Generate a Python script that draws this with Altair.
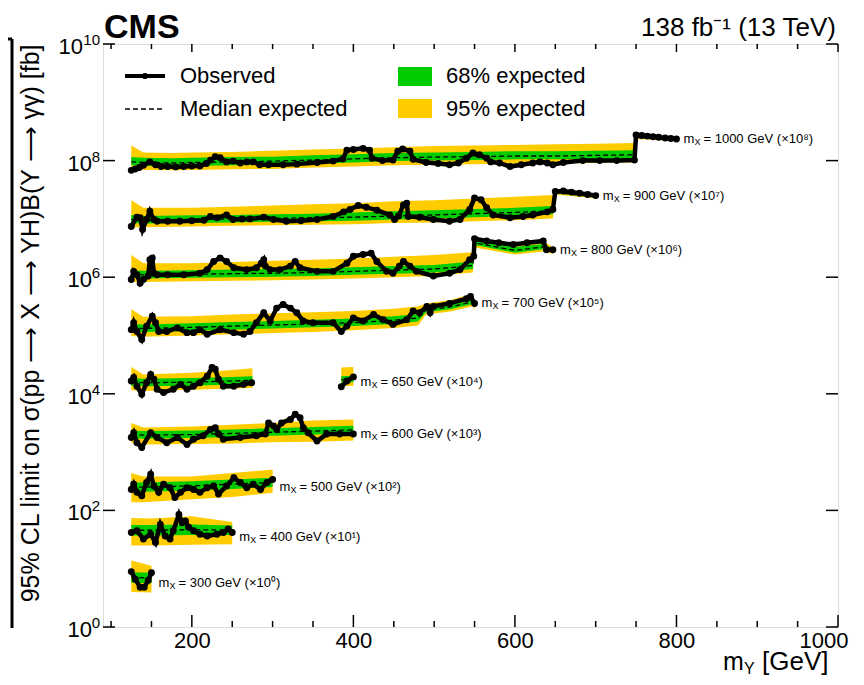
import altair as alt
import pandas as pd

# ---------------- data (limits in fb, before the per-series scale factor) ----------------
series_mX = [1000, 900, 800, 700, 650, 600, 500, 400, 300]
scale_pow = [8, 7, 6, 5, 4, 3, 2, 1, 0]

# mX = 1000 GeV
mY_obs_1000 = [125,130,135,140,148,155,162,170,180,190,200,210,218,223,229,235,243,251,260,268,276,284,295,313,330,355,375,387,392,400,412,420,423,436,449,455,461,470,474,490,505,519,530,540,548,556,565,570,581,594,608,622,631,640,647,660,684,705,726,748,750,757,764,771,778,786,793,800]
obs_1000 = [0.68,0.72,0.76,0.83,0.95,0.85,0.79,0.79,0.78,0.79,0.81,0.81,0.89,1.02,1.17,1.12,0.95,0.98,0.91,0.95,0.95,0.85,0.85,0.85,0.87,0.93,0.98,1.07,1.51,1.55,1.62,1.51,1.10,1.00,1.02,1.45,1.58,1.45,1.05,0.93,0.89,0.85,0.91,1.10,1.35,1.26,1.10,0.95,0.91,0.79,0.85,0.91,0.95,0.91,0.85,0.93,1.00,1.00,1.00,1.02,2.75,2.69,2.63,2.57,2.51,2.45,2.40,2.34]
mY_exp_1000 = [125,140,175,200,250,300,350,400,450,500,550,600,650,700,748,750,800]
exp_1000 = [0.95,0.93,0.91,0.93,0.95,0.98,1.02,1.07,1.12,1.15,1.17,1.20,1.20,1.23,1.26,2.51,2.29]
g_lo_1000 = [0.83,0.81,0.79,0.81,0.83,0.85,0.89,0.93,0.98,1.00,1.02,1.05,1.05,1.07,1.10,2.45,2.24]
g_hi_1000 = [1.15,1.12,1.10,1.12,1.15,1.17,1.23,1.29,1.35,1.38,1.41,1.45,1.45,1.48,1.51,2.63,2.40]
y_lo_1000 = [0.69,0.69,0.68,0.69,0.71,0.72,0.76,0.79,0.83,0.85,0.87,0.89,0.89,0.91,0.93,2.34,2.14]
y_hi_1000 = [1.82,1.38,1.35,1.38,1.41,1.48,1.55,1.62,1.70,1.78,1.82,1.86,1.91,1.95,2.00,2.75,2.51]

# mX = 900 GeV
mY_obs_900 = [125,132,136,139,144,148,153,157,170,185,200,215,223,231,243,251,262,272,289,301,317,335,355,375,388,396,406,416,429,445,451,456,462,466,468,482,499,519,532,544,550,558,565,573,594,610,622,640,647,650,660,670,680,690,700]
obs_900 = [0.74,1.07,1.05,0.66,0.98,1.35,0.98,0.91,0.91,0.91,0.93,0.95,1.10,1.05,1.17,0.98,1.00,1.00,1.07,0.98,0.91,0.93,0.98,1.10,1.32,1.45,1.70,1.58,1.41,1.17,0.98,1.12,1.74,1.86,1.10,1.07,0.98,0.91,0.98,1.45,2.29,2.14,1.55,1.17,1.05,1.10,1.17,1.32,1.45,2.95,3.02,2.88,2.75,2.63,2.51]
mY_exp_900 = [125,140,200,250,300,350,400,450,500,550,600,647,650,700]
exp_900 = [0.98,0.95,0.98,1.00,1.02,1.05,1.07,1.12,1.17,1.23,1.29,1.38,2.82,2.40]
g_lo_900 = [0.85,0.83,0.85,0.87,0.89,0.91,0.93,0.98,1.02,1.07,1.12,1.20,2.75,2.34]
g_hi_900 = [1.17,1.12,1.15,1.17,1.20,1.23,1.29,1.35,1.41,1.48,1.55,1.66,2.95,2.51]
y_lo_900 = [0.72,0.72,0.74,0.76,0.78,0.79,0.81,0.85,0.87,0.91,0.95,1.02,2.63,2.24]
y_hi_900 = [2.09,1.55,1.55,1.62,1.70,1.78,1.86,2.00,2.09,2.24,2.40,2.57,3.09,2.63]

# mX = 800 GeV
mY_obs_800 = [125,128,132,136,140,146,148,151,153,157,170,190,210,219,227,235,243,252,268,280,286,289,291,297,309,322,328,334,355,375,392,400,412,422,429,441,449,457,462,470,478,499,519,532,544,549,550,565,580,598,615,635,639,647]
obs_800 = [0.91,1.26,1.10,0.79,0.91,1.05,2.00,2.14,1.17,1.10,1.10,1.10,1.17,1.35,1.86,2.14,1.86,1.45,1.35,1.45,1.74,2.00,1.55,1.35,1.35,1.55,1.86,1.45,1.26,1.26,1.74,2.29,2.45,2.57,1.86,1.26,1.17,1.55,1.86,1.55,1.26,1.05,1.17,1.35,2.00,2.29,4.57,4.17,3.89,3.63,3.89,4.17,2.95,2.95]
mY_exp_800 = [125,140,200,250,300,350,400,450,500,548,550,600,635,647]
exp_800 = [1.12,1.10,1.12,1.15,1.17,1.20,1.26,1.32,1.38,1.58,3.89,2.88,3.31,2.82]
g_lo_800 = [0.98,0.95,0.98,1.00,1.02,1.05,1.10,1.15,1.20,1.38,3.55,2.63,3.02,2.63]
g_hi_800 = [1.32,1.29,1.32,1.35,1.38,1.41,1.48,1.55,1.62,1.86,4.27,3.31,3.72,3.02]
y_lo_800 = [0.83,0.83,0.85,0.87,0.89,0.91,0.95,1.00,1.05,1.20,3.24,2.45,2.75,2.51]
y_hi_800 = [2.40,1.74,1.74,1.82,1.91,2.00,2.09,2.24,2.40,2.69,4.68,3.80,4.27,3.24]

# mX = 700 GeV
mY_obs_700 = [125,128,132,138,144,151,155,159,169,182,194,202,210,219,235,252,264,272,280,289,297,305,313,322,330,338,350,375,385,392,400,412,425,437,449,466,474,482,491,495,499,519,540,545,550]
obs_700 = [1.26,1.66,1.17,0.85,1.45,2.14,1.66,1.17,1.17,1.35,1.12,1.12,1.26,1.05,1.26,1.12,1.05,1.17,1.66,2.45,1.78,2.95,3.39,2.95,2.45,1.78,1.66,1.66,1.17,1.45,2.00,1.78,2.29,1.86,1.55,1.86,2.63,2.45,3.16,2.45,3.16,3.55,4.27,4.68,3.55]
mY_exp_700 = [125,140,200,250,300,350,400,450,480,490,520,548,550]
exp_700 = [1.35,1.32,1.38,1.45,1.51,1.58,1.66,1.82,2.00,2.75,3.09,3.80,3.31]
g_lo_700 = [1.17,1.15,1.20,1.26,1.32,1.38,1.45,1.58,1.74,2.51,2.82,3.47,3.02]
g_hi_700 = [1.58,1.55,1.62,1.70,1.78,1.86,1.95,2.14,2.34,3.02,3.39,4.17,3.63]
y_lo_700 = [0.98,0.95,1.00,1.05,1.10,1.15,1.23,1.35,1.48,2.29,2.57,3.16,2.75]
y_hi_700 = [2.82,2.09,2.14,2.29,2.40,2.51,2.63,2.88,3.16,3.55,4.07,5.25,4.17]

# mX = 650 GeV
mY_obs_650 = [125,128,132,138,144,149,153,157,165,177,186,194,202,210,219,225,229,233,239,252,264,274,385,392,400]
obs_650 = [1.66,1.91,1.35,0.98,1.55,2.14,1.78,1.20,1.05,1.20,1.45,1.20,1.35,1.55,2.00,2.82,2.63,1.78,1.35,1.35,1.45,1.55,1.32,1.66,1.95]
mY_exp_650 = [125,140,200,250,275,385,400]
exp_650 = [1.58,1.55,1.58,1.66,1.70,1.74,1.78]
g_lo_650 = [1.38,1.35,1.38,1.45,1.48,1.55,1.58]
g_hi_650 = [1.86,1.82,1.86,1.95,2.00,2.00,2.04]
y_lo_650 = [1.15,1.12,1.17,1.23,1.26,1.35,1.38]
y_hi_650 = [2.88,2.14,2.29,2.57,2.75,2.82,2.88]

# mX = 600 GeV
mY_obs_600 = [125,128,132,138,149,157,169,182,194,202,214,223,229,233,239,260,280,291,295,301,305,311,322,328,334,338,344,355,367,383,400]
obs_600 = [1.78,2.14,1.45,1.20,2.14,1.78,1.45,1.78,1.35,1.66,1.91,2.45,2.63,2.04,1.66,1.78,1.91,2.04,3.16,2.82,2.45,3.16,3.63,4.47,3.89,2.63,2.14,1.55,2.04,2.04,2.04]
mY_exp_600 = [125,140,200,250,300,350,400]
exp_600 = [2.00,1.95,2.00,2.09,2.19,2.29,2.40]
g_lo_600 = [1.74,1.70,1.74,1.82,1.91,2.00,2.09]
g_hi_600 = [2.34,2.29,2.34,2.45,2.57,2.69,2.82]
y_lo_600 = [1.45,1.35,1.38,1.41,1.48,1.51,1.58]
y_hi_600 = [3.16,2.63,2.75,2.95,3.16,3.47,3.63]

# mX = 500 GeV
mY_obs_500 = [125,128,132,138,144,149,153,159,165,173,179,186,194,202,210,219,227,233,243,252,260,268,276,285,293,300]
obs_500 = [2.29,2.82,2.04,1.78,3.02,4.17,2.63,2.04,2.82,2.45,1.66,2.04,2.45,2.29,2.04,2.45,2.63,1.91,2.63,3.63,3.02,2.45,2.82,2.29,3.02,3.39]
mY_exp_500 = [125,140,200,250,300]
exp_500 = [2.51,2.51,2.63,2.82,3.02]
g_lo_500 = [2.14,2.09,2.19,2.34,2.51]
g_hi_500 = [3.02,3.02,3.16,3.39,3.63]
y_lo_500 = [1.38,1.38,1.55,1.70,2.00]
y_hi_500 = [4.37,3.80,3.80,4.37,5.01]

# mX = 400 GeV
mY_obs_400 = [125,132,140,149,155,161,167,173,177,184,188,192,196,202,210,219,231,239,245,250]
obs_400 = [4.17,4.47,3.24,3.89,2.82,5.75,3.63,3.24,4.47,8.51,6.17,6.61,5.13,4.47,3.89,3.63,3.89,4.17,4.79,4.17]
mY_exp_400 = [125,150,200,250]
exp_400 = [4.57,4.57,4.68,4.57]
g_lo_400 = [3.72,3.72,3.80,3.80]
g_hi_400 = [5.62,5.62,5.75,5.50]
y_lo_400 = [2.51,2.51,2.57,2.63]
y_hi_400 = [7.41,7.24,7.94,6.31]

# mX = 300 GeV
mY_obs_300 = [125,130,136,141,146,150]
obs_300 = [8.91,6.61,4.79,4.79,6.31,8.51]
mY_exp_300 = [125,150]
exp_300 = [7.08,6.92]
g_lo_300 = [5.75,5.62]
g_hi_300 = [8.71,8.51]
y_lo_300 = [3.98,3.89]
y_hi_300 = [13.8,11.2]

x_major = [200, 400, 600, 800, 1000]
x_minor = [100, 150, 250, 300, 350, 450, 500, 550, 650, 700, 750, 850, 900, 950]
y_major = [1, 1e2, 1e4, 1e6, 1e8, 1e10]
y_major_exp = ["0", "2", "4", "6", "8", "10"]

obs_sets = {
    1000: (mY_obs_1000, obs_1000), 900: (mY_obs_900, obs_900), 800: (mY_obs_800, obs_800),
    700: (mY_obs_700, obs_700), 650: (mY_obs_650, obs_650), 600: (mY_obs_600, obs_600),
    500: (mY_obs_500, obs_500), 400: (mY_obs_400, obs_400), 300: (mY_obs_300, obs_300),
}
exp_sets = {
    1000: (mY_exp_1000, exp_1000, g_lo_1000, g_hi_1000, y_lo_1000, y_hi_1000),
    900: (mY_exp_900, exp_900, g_lo_900, g_hi_900, y_lo_900, y_hi_900),
    800: (mY_exp_800, exp_800, g_lo_800, g_hi_800, y_lo_800, y_hi_800),
    700: (mY_exp_700, exp_700, g_lo_700, g_hi_700, y_lo_700, y_hi_700),
    650: (mY_exp_650, exp_650, g_lo_650, g_hi_650, y_lo_650, y_hi_650),
    600: (mY_exp_600, exp_600, g_lo_600, g_hi_600, y_lo_600, y_hi_600),
    500: (mY_exp_500, exp_500, g_lo_500, g_hi_500, y_lo_500, y_hi_500),
    400: (mY_exp_400, exp_400, g_lo_400, g_hi_400, y_lo_400, y_hi_400),
    300: (mY_exp_300, exp_300, g_lo_300, g_hi_300, y_lo_300, y_hi_300),
}

# ---------------- styling ----------------
FONT = "Liberation Sans"
YELLOW = "#FFCC00"
GREEN = "#00CC00"
W, H = 735, 583
label_dy = {1000: 0, 900: 0, 800: 0, 700: 0, 650: 5, 600: 0, 500: 8, 400: 4, 300: 10}
SUP = {0: "⁰", 1: "¹", 2: "²", 3: "³", 4: "⁴", 5: "⁵", 6: "⁶", 7: "⁷", 8: "⁸"}


def segments(xlist):
    # a new segment starts where the mass scan has a gap of more than 100 GeV
    seg, prev, out = 0, None, []
    for x in xlist:
        if prev is not None and x - prev > 100:
            seg += 1
        out.append(seg)
        prev = x
    return out


obs_frames, exp_frames, label_frames = [], [], []
for mX, p in zip(series_mX, scale_pow):
    xv, ov = obs_sets[mX]
    f = pd.DataFrame({"mY": xv, "limit": ov})
    f["limit"] = f["limit"] * 10.0 ** p
    f["seg"] = [f"{mX}_{s}" for s in segments(xv)]
    obs_frames.append(f)
    ex, me, gl, gh, yl, yh = exp_sets[mX]
    e = pd.DataFrame({"mY": ex, "med": me, "g_lo": gl, "g_hi": gh, "y_lo": yl, "y_hi": yh})
    for c in ["med", "g_lo", "g_hi", "y_lo", "y_hi"]:
        e[c] = e[c] * 10.0 ** p
    e["seg"] = [f"{mX}_{s}" for s in segments(ex)]
    exp_frames.append(e)
    label_frames.append((mX, pd.DataFrame({
        "mY": [xv[-1]], "limit": [ov[-1] * 10.0 ** p],
        "eq": [f"= {mX} GeV (×10{SUP[p]})"],
    })))

obs_df = pd.concat(obs_frames, ignore_index=True)
exp_df = pd.concat(exp_frames, ignore_index=True)

xs = alt.Scale(domain=[90, 1000], nice=False, zero=False)
ys = alt.Scale(type="log", domain=[1, 1e10], nice=False)

x_axis = alt.Axis(values=x_major, format="d", ticks=False, domain=False, grid=False, title=None,
                  labelFontSize=22, labelPadding=3, labelFlush=True, labelFlushOffset=10,
                  labelFont=FONT, labelColor="black")
y_axis = alt.Axis(values=y_major, labels=False, ticks=False, domain=False, grid=False,
                  title="95% CL limit on σ(pp ⟶ X ⟶ YH)B(Y ⟶ γγ) [fb]",
                  titleFont=FONT, titleFontSize=25, titleFontWeight="normal", titleColor="black",
                  titleAngle=-90, titleX=-73, titleY=0, titleAlign="right", titleBaseline="middle")


def X(f="mY:Q"):
    return alt.X(f, scale=xs, axis=x_axis)


def Y(f):
    return alt.Y(f, scale=ys, axis=y_axis)


yellow = alt.Chart(exp_df).mark_area(color=YELLOW, opacity=1).encode(
    x=X(), y=Y("y_lo:Q"), y2="y_hi:Q", detail="seg:N")
green = alt.Chart(exp_df).mark_area(color=GREEN, opacity=1).encode(
    x=X(), y=Y("g_lo:Q"), y2="g_hi:Q", detail="seg:N")
median = alt.Chart(exp_df).mark_line(color="black", strokeWidth=1.3, strokeDash=[5, 3]).encode(
    x=X(), y=Y("med:Q"), detail="seg:N")
obs_line = alt.Chart(obs_df).mark_line(color="black", strokeWidth=4.5).encode(
    x=X(), y=Y("limit:Q"), detail="seg:N")
obs_pts = alt.Chart(obs_df).mark_circle(color="black", size=48, opacity=1).encode(
    x=X(), y=Y("limit:Q"))

layers = [yellow, green, median, obs_line, obs_pts]

# series labels
for mX, ldf in label_frames:
    dy = label_dy[mX]
    enc = dict(x=X(), y=Y("limit:Q"))
    layers.append(alt.Chart(ldf).mark_text(text="m", font=FONT, fontSize=13, align="left",
                                           baseline="middle", dx=7, dy=dy, color="black").encode(**enc))
    layers.append(alt.Chart(ldf).mark_text(text="X", font=FONT, fontSize=9, align="left",
                                           baseline="middle", dx=18, dy=dy + 3, color="black").encode(**enc))
    layers.append(alt.Chart(ldf).mark_text(font=FONT, fontSize=13, align="left",
                                           baseline="middle", dx=27, dy=dy, color="black").encode(
        text="eq:N", **enc))

# y tick labels as 10 with a raised exponent
ylab = pd.DataFrame({"v": y_major, "e": y_major_exp})
for short in (True, False):
    sub = ylab[ylab["e"].str.len() == (1 if short else 2)]
    layers.append(alt.Chart(sub).mark_text(text="10", font=FONT, fontSize=22, align="right",
                                           baseline="alphabetic", dy=10, color="black").encode(
        x=alt.value(-11 if short else -20), y=Y("v:Q")))
    layers.append(alt.Chart(sub).mark_text(font=FONT, fontSize=15, align="right",
                                           baseline="alphabetic", dy=1, color="black").encode(
        x=alt.value(-3), y=Y("v:Q"), text="e:N"))

# inward ticks
xmaj = pd.DataFrame({"mY": x_major})
xmin = pd.DataFrame({"mY": x_minor})
ymaj = pd.DataFrame({"v": y_major})
tk = dict(color="black", strokeWidth=1.5)
layers += [
    alt.Chart(xmaj).mark_rule(**tk).encode(x=X(), y=alt.value(H), y2=alt.value(H - 12)),
    alt.Chart(xmin).mark_rule(**tk).encode(x=X(), y=alt.value(H), y2=alt.value(H - 6)),
    alt.Chart(xmaj).mark_rule(**tk).encode(x=X(), y=alt.value(0), y2=alt.value(8)),
    alt.Chart(xmin).mark_rule(**tk).encode(x=X(), y=alt.value(0), y2=alt.value(5)),
    alt.Chart(ymaj).mark_rule(**tk).encode(y=Y("v:Q"), x=alt.value(0), x2=alt.value(12)),
    alt.Chart(ymaj).mark_rule(**tk).encode(y=Y("v:Q"), x=alt.value(W), x2=alt.value(W - 12)),
]

# legend
one = pd.DataFrame({"k": [0]})


def txt(s, x, y, size=22, **kw):
    return alt.Chart(one).mark_text(text=s, font=FONT, fontSize=size, color="black", **kw).encode(
        x=alt.value(x), y=alt.value(y))


layers += [
    alt.Chart(one).mark_rule(color="black", strokeWidth=4).encode(x=alt.value(22), x2=alt.value(62), y=alt.value(32)),
    alt.Chart(one).mark_circle(color="black", size=38, opacity=1).encode(x=alt.value(42), y=alt.value(32)),
    alt.Chart(one).mark_rule(color="black", strokeWidth=1.3, strokeDash=[5, 3]).encode(x=alt.value(22), x2=alt.value(62), y=alt.value(65)),
    alt.Chart(one).mark_rect(color=GREEN).encode(x=alt.value(295), x2=alt.value(329), y=alt.value(23), y2=alt.value(42)),
    alt.Chart(one).mark_rect(color=YELLOW).encode(x=alt.value(295), x2=alt.value(329), y=alt.value(55), y2=alt.value(74)),
    txt("Observed", 77, 32, align="left", baseline="middle"),
    txt("Median expected", 77, 65, align="left", baseline="middle"),
    txt("68% expected", 343, 32, align="left", baseline="middle"),
    txt("95% expected", 343, 65, align="left", baseline="middle"),
    # header
    txt("CMS", 1, -6, size=34, align="left", baseline="alphabetic", fontWeight="bold"),
    txt("138 fb⁻¹ (13 TeV)", 733, -8, size=26, align="right", baseline="alphabetic"),
    # x title
    txt("m", 620, 626, size=25, align="left", baseline="alphabetic"),
    txt("Y", 641, 630, size=16, align="left", baseline="alphabetic"),
    txt("[GeV]", 659, 626, size=26, align="left", baseline="alphabetic"),
    # edge of the neighbouring panel
    alt.Chart(one).mark_rule(color="black", strokeWidth=3).encode(x=alt.value(-91), y=alt.value(-5), y2=alt.value(584)),
    alt.Chart(one).mark_rule(color="black", strokeWidth=3).encode(x=alt.value(-96), x2=alt.value(-91), y=alt.value(-5)),
]

chart = alt.layer(*layers).properties(
    width=W, height=H,
    padding={"left": 95, "top": 36, "right": 12, "bottom": 50},
    autosize=alt.AutoSizeParams(type="none"),
).configure_view(stroke="black", strokeWidth=3).configure(font=FONT)

chart.save("out.html", embed_options={"renderer": "svg", "actions": False})
